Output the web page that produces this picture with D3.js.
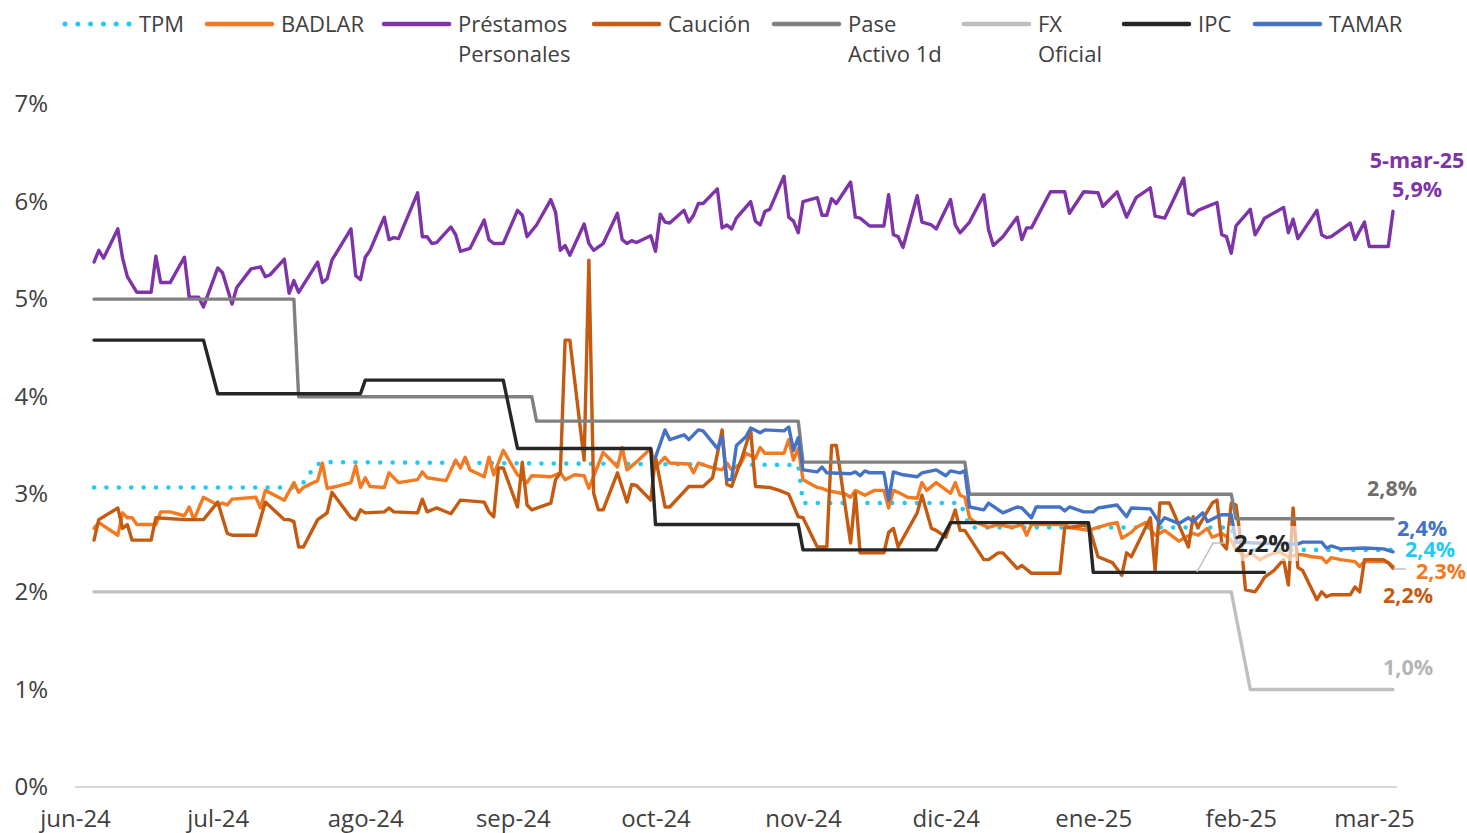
<!DOCTYPE html>
<html><head><meta charset="utf-8">
<script src="https://cdn.jsdelivr.net/npm/d3@7"></script>
<style>
body{margin:0;background:#fff;}
svg{display:block;font-family:"Open Sans",sans-serif;}
</style></head><body>
<svg id="chart" width="1467" height="833"></svg>
<script>
// ---------------- DATA ----------------
const xTickDates = ["2024-06-01","2024-07-01","2024-08-01","2024-09-01","2024-10-01","2024-11-01","2024-12-01","2025-01-01","2025-02-01","2025-03-01"];
const xTickLabels = ["jun-24","jul-24","ago-24","sep-24","oct-24","nov-24","dic-24","ene-25","feb-25","mar-25"];
const yTicks = [0,1,2,3,4,5,6,7];
const monthNames = ["ene","feb","mar","abr","may","jun","jul","ago","sep","oct","nov","dic"];

const seriesNames = ["TPM","BADLAR","Préstamos Personales","Caución","Pase Activo 1d","FX Oficial","IPC","TAMAR"];

const tpm = [["2024-06-05",3.07],["2024-07-17",3.07],["2024-07-19",3.12],["2024-07-20",3.17],["2024-07-21",3.28],["2024-07-23",3.33],["2024-10-31",3.30],["2024-11-01",2.91],["2024-12-04",2.91],["2024-12-05",2.80],["2024-12-06",2.66],["2025-01-30",2.66],["2025-01-31",2.43],["2025-03-05",2.43]];

const badlar = [["2024-06-05",2.65],["2024-06-06",2.71],["2024-06-10",2.58],["2024-06-11",2.81],["2024-06-12",2.76],["2024-06-13",2.76],["2024-06-14",2.69],["2024-06-18",2.69],["2024-06-19",2.82],["2024-06-21",2.82],["2024-06-24",2.78],["2024-06-25",2.87],["2024-06-26",2.74],["2024-06-28",2.97],["2024-07-01",2.89],["2024-07-02",2.91],["2024-07-03",2.89],["2024-07-04",2.95],["2024-07-09",2.97],["2024-07-10",2.86],["2024-07-11",3.04],["2024-07-15",2.94],["2024-07-17",3.12],["2024-07-18",3.02],["2024-07-19",3.07],["2024-07-22",3.14],["2024-07-23",3.32],["2024-07-24",3.06],["2024-07-26",3.08],["2024-07-29",3.12],["2024-07-30",3.29],["2024-07-31",3.07],["2024-08-01",3.17],["2024-08-02",3.08],["2024-08-05",3.07],["2024-08-06",3.22],["2024-08-08",3.12],["2024-08-12",3.15],["2024-08-13",3.23],["2024-08-14",3.17],["2024-08-18",3.14],["2024-08-20",3.35],["2024-08-21",3.27],["2024-08-22",3.38],["2024-08-23",3.25],["2024-08-26",3.18],["2024-08-27",3.38],["2024-08-28",3.20],["2024-08-30",3.45],["2024-09-02",3.20],["2024-09-04",3.12],["2024-09-05",3.19],["2024-09-09",3.18],["2024-09-11",3.22],["2024-09-12",3.15],["2024-09-14",3.20],["2024-09-16",3.19],["2024-09-17",3.06],["2024-09-20",3.43],["2024-09-21",3.38],["2024-09-23",3.28],["2024-09-24",3.48],["2024-09-25",3.25],["2024-09-27",3.33],["2024-09-30",3.47],["2024-10-01",3.28],["2024-10-03",3.38],["2024-10-04",3.32],["2024-10-08",3.31],["2024-10-09",3.22],["2024-10-10",3.32],["2024-10-13",3.27],["2024-10-15",3.25],["2024-10-16",3.32],["2024-10-17",3.25],["2024-10-19",3.32],["2024-10-20",3.42],["2024-10-22",3.37],["2024-10-23",3.48],["2024-10-24",3.42],["2024-10-28",3.42],["2024-10-29",3.56],["2024-10-30",3.35],["2024-10-31",3.47],["2024-11-01",3.15],["2024-11-04",3.07],["2024-11-05",3.06],["2024-11-06",3.04],["2024-11-10",3.00],["2024-11-11",2.97],["2024-11-12",3.04],["2024-11-14",2.99],["2024-11-16",3.04],["2024-11-18",3.04],["2024-11-19",2.86],["2024-11-20",3.04],["2024-11-21",3.02],["2024-11-23",2.97],["2024-11-25",2.96],["2024-11-26",3.12],["2024-11-27",3.04],["2024-11-29",3.12],["2024-12-02",3.01],["2024-12-03",3.12],["2024-12-04",2.99],["2024-12-05",2.97],["2024-12-06",2.76],["2024-12-07",2.72],["2024-12-10",2.66],["2024-12-12",2.69],["2024-12-15",2.66],["2024-12-17",2.69],["2024-12-18",2.58],["2024-12-19",2.69],["2024-12-26",2.69],["2024-12-27",2.66],["2024-12-31",2.63],["2025-01-02",2.66],["2025-01-04",2.69],["2025-01-06",2.71],["2025-01-07",2.55],["2025-01-09",2.61],["2025-01-10",2.66],["2025-01-12",2.71],["2025-01-14",2.58],["2025-01-15",2.60],["2025-01-16",2.63],["2025-01-19",2.52],["2025-01-20",2.55],["2025-01-22",2.60],["2025-01-23",2.58],["2025-01-25",2.65],["2025-01-26",2.56],["2025-01-28",2.60],["2025-01-30",2.53],["2025-01-31",2.43],["2025-02-02",2.36],["2025-02-03",2.40],["2025-02-05",2.33],["2025-02-07",2.38],["2025-02-09",2.41],["2025-02-11",2.36],["2025-02-13",2.38],["2025-02-14",2.38],["2025-02-16",2.36],["2025-02-18",2.35],["2025-02-19",2.30],["2025-02-20",2.35],["2025-02-22",2.33],["2025-02-25",2.31],["2025-02-26",2.26],["2025-02-27",2.31],["2025-03-03",2.31],["2025-03-04",2.30],["2025-03-05",2.26]];

const prestamos = [["2024-06-05",5.38],["2024-06-06",5.50],["2024-06-07",5.42],["2024-06-10",5.72],["2024-06-11",5.42],["2024-06-12",5.23],["2024-06-14",5.07],["2024-06-17",5.07],["2024-06-18",5.44],["2024-06-19",5.17],["2024-06-21",5.17],["2024-06-24",5.43],["2024-06-25",5.02],["2024-06-27",5.02],["2024-06-28",4.92],["2024-07-01",5.32],["2024-07-02",5.27],["2024-07-04",4.95],["2024-07-05",5.12],["2024-07-08",5.31],["2024-07-10",5.33],["2024-07-11",5.23],["2024-07-12",5.25],["2024-07-15",5.41],["2024-07-16",5.06],["2024-07-17",5.19],["2024-07-18",5.07],["2024-07-22",5.38],["2024-07-23",5.17],["2024-07-24",5.21],["2024-07-25",5.40],["2024-07-29",5.72],["2024-07-30",5.24],["2024-07-31",5.20],["2024-08-01",5.43],["2024-08-02",5.50],["2024-08-05",5.84],["2024-08-06",5.61],["2024-08-07",5.63],["2024-08-08",5.62],["2024-08-12",6.09],["2024-08-13",5.64],["2024-08-14",5.64],["2024-08-15",5.57],["2024-08-16",5.58],["2024-08-19",5.74],["2024-08-20",5.66],["2024-08-21",5.49],["2024-08-23",5.52],["2024-08-26",5.81],["2024-08-27",5.61],["2024-08-28",5.57],["2024-08-30",5.57],["2024-09-02",5.91],["2024-09-03",5.86],["2024-09-04",5.64],["2024-09-06",5.76],["2024-09-09",6.02],["2024-09-10",5.89],["2024-09-11",5.50],["2024-09-12",5.55],["2024-09-13",5.45],["2024-09-16",5.77],["2024-09-17",5.57],["2024-09-18",5.50],["2024-09-20",5.57],["2024-09-23",5.88],["2024-09-24",5.61],["2024-09-25",5.57],["2024-09-26",5.60],["2024-09-27",5.58],["2024-09-30",5.65],["2024-10-01",5.49],["2024-10-02",5.87],["2024-10-03",5.79],["2024-10-04",5.78],["2024-10-07",5.91],["2024-10-08",5.79],["2024-10-09",5.86],["2024-10-10",5.98],["2024-10-11",5.98],["2024-10-14",6.13],["2024-10-15",5.73],["2024-10-16",5.76],["2024-10-17",5.72],["2024-10-18",5.83],["2024-10-21",6.00],["2024-10-22",5.80],["2024-10-23",5.76],["2024-10-24",5.90],["2024-10-25",5.92],["2024-10-28",6.26],["2024-10-29",5.84],["2024-10-30",5.80],["2024-10-31",5.68],["2024-11-01",6.00],["2024-11-04",6.04],["2024-11-05",5.86],["2024-11-06",5.86],["2024-11-07",6.03],["2024-11-08",5.98],["2024-11-11",6.20],["2024-11-12",5.84],["2024-11-13",5.83],["2024-11-15",5.75],["2024-11-18",5.75],["2024-11-19",6.07],["2024-11-20",5.66],["2024-11-21",5.64],["2024-11-22",5.53],["2024-11-25",6.06],["2024-11-26",5.79],["2024-11-28",5.76],["2024-11-29",5.72],["2024-12-02",6.02],["2024-12-03",5.76],["2024-12-04",5.68],["2024-12-06",5.79],["2024-12-09",6.07],["2024-12-10",5.71],["2024-12-11",5.55],["2024-12-13",5.64],["2024-12-16",5.84],["2024-12-17",5.61],["2024-12-18",5.73],["2024-12-19",5.73],["2024-12-23",6.10],["2024-12-26",6.10],["2024-12-27",5.88],["2024-12-30",6.10],["2025-01-02",6.09],["2025-01-03",5.95],["2025-01-06",6.10],["2025-01-08",5.84],["2025-01-10",6.04],["2025-01-13",6.14],["2025-01-14",5.85],["2025-01-16",5.83],["2025-01-20",6.24],["2025-01-21",5.88],["2025-01-22",5.86],["2025-01-23",5.91],["2025-01-27",5.99],["2025-01-28",5.66],["2025-01-29",5.64],["2025-01-30",5.47],["2025-01-31",5.75],["2025-02-03",5.92],["2025-02-04",5.66],["2025-02-05",5.74],["2025-02-06",5.83],["2025-02-10",5.94],["2025-02-11",5.68],["2025-02-12",5.82],["2025-02-13",5.62],["2025-02-17",5.91],["2025-02-18",5.66],["2025-02-19",5.63],["2025-02-20",5.64],["2025-02-24",5.78],["2025-02-25",5.61],["2025-02-27",5.79],["2025-02-28",5.54],["2025-03-04",5.54],["2025-03-05",5.90]];

const caucion = [["2024-06-05",2.53],["2024-06-06",2.74],["2024-06-10",2.86],["2024-06-11",2.65],["2024-06-12",2.69],["2024-06-13",2.53],["2024-06-17",2.53],["2024-06-18",2.76],["2024-06-24",2.74],["2024-06-28",2.74],["2024-07-01",2.92],["2024-07-03",2.60],["2024-07-04",2.58],["2024-07-09",2.58],["2024-07-11",2.92],["2024-07-15",2.74],["2024-07-16",2.74],["2024-07-17",2.72],["2024-07-18",2.46],["2024-07-19",2.46],["2024-07-22",2.74],["2024-07-24",2.81],["2024-07-25",3.02],["2024-07-29",2.76],["2024-07-30",2.74],["2024-07-31",2.84],["2024-08-01",2.81],["2024-08-05",2.82],["2024-08-06",2.86],["2024-08-07",2.82],["2024-08-12",2.81],["2024-08-13",2.95],["2024-08-14",2.82],["2024-08-16",2.86],["2024-08-19",2.80],["2024-08-21",2.94],["2024-08-26",2.92],["2024-08-27",2.82],["2024-08-28",2.77],["2024-08-29",3.27],["2024-08-30",3.27],["2024-09-02",2.87],["2024-09-03",3.33],["2024-09-04",2.89],["2024-09-05",2.84],["2024-09-09",2.91],["2024-09-10",3.15],["2024-09-11",3.22],["2024-09-12",4.58],["2024-09-13",4.58],["2024-09-16",3.35],["2024-09-17",5.40],["2024-09-18",3.01],["2024-09-19",2.84],["2024-09-20",2.84],["2024-09-23",3.22],["2024-09-25",2.92],["2024-09-26",3.10],["2024-09-27",3.09],["2024-09-30",2.94],["2024-10-01",3.38],["2024-10-03",2.87],["2024-10-04",2.87],["2024-10-08",3.08],["2024-10-11",3.08],["2024-10-13",3.17],["2024-10-15",3.66],["2024-10-16",3.10],["2024-10-17",3.08],["2024-10-19",3.35],["2024-10-21",3.66],["2024-10-22",3.08],["2024-10-25",3.07],["2024-10-27",3.04],["2024-10-29",3.00],["2024-10-31",2.77],["2024-11-01",2.76],["2024-11-04",2.46],["2024-11-06",2.46],["2024-11-07",3.50],["2024-11-08",3.50],["2024-11-11",2.50],["2024-11-12",3.01],["2024-11-13",2.40],["2024-11-18",2.40],["2024-11-19",2.61],["2024-11-20",2.65],["2024-11-21",2.46],["2024-11-25",2.81],["2024-11-26",2.99],["2024-11-28",2.65],["2024-11-29",2.63],["2024-12-01",2.56],["2024-12-03",2.84],["2024-12-04",2.63],["2024-12-05",2.63],["2024-12-09",2.33],["2024-12-10",2.33],["2024-12-12",2.40],["2024-12-13",2.40],["2024-12-16",2.24],["2024-12-17",2.27],["2024-12-19",2.19],["2024-12-25",2.19],["2024-12-26",2.66],["2024-12-27",2.66],["2024-12-31",2.69],["2025-01-02",2.36],["2025-01-05",2.30],["2025-01-07",2.17],["2025-01-08",2.40],["2025-01-09",2.36],["2025-01-13",2.76],["2025-01-14",2.22],["2025-01-15",2.91],["2025-01-17",2.91],["2025-01-21",2.46],["2025-01-22",2.77],["2025-01-23",2.66],["2025-01-26",2.91],["2025-01-27",2.94],["2025-01-28",2.50],["2025-01-29",2.44],["2025-01-30",2.91],["2025-01-31",2.89],["2025-02-01",2.53],["2025-02-02",2.02],["2025-02-04",2.00],["2025-02-05",2.07],["2025-02-06",2.15],["2025-02-08",2.22],["2025-02-10",2.33],["2025-02-11",2.07],["2025-02-12",2.86],["2025-02-13",2.25],["2025-02-14",2.22],["2025-02-17",1.92],["2025-02-18",2.00],["2025-02-19",1.95],["2025-02-20",1.97],["2025-02-24",1.97],["2025-02-25",2.05],["2025-02-26",2.00],["2025-02-27",2.33],["2025-03-03",2.33],["2025-03-04",2.30],["2025-03-05",2.24]];

const pase = [["2024-06-05",5.00],["2024-07-17",5.00],["2024-07-18",4.00],["2024-09-05",4.00],["2024-09-06",3.75],["2024-10-31",3.75],["2024-11-01",3.33],["2024-12-05",3.33],["2024-12-06",3.00],["2025-01-30",3.00],["2025-01-31",2.75],["2025-03-05",2.75]];

const fxOficial = [["2024-06-05",2.00],["2025-01-30",2.00],["2025-02-03",1.00],["2025-03-05",1.00]];

const ipc = [["2024-06-05",4.58],["2024-06-28",4.58],["2024-07-01",4.03],["2024-07-31",4.03],["2024-08-01",4.17],["2024-08-30",4.17],["2024-09-02",3.47],["2024-09-30",3.47],["2024-10-01",2.69],["2024-10-31",2.69],["2024-11-01",2.43],["2024-11-29",2.43],["2024-12-02",2.71],["2024-12-31",2.71],["2025-01-01",2.20],["2025-02-06",2.20]];

const tamar = [["2024-10-01",3.38],["2024-10-03",3.66],["2024-10-04",3.56],["2024-10-07",3.61],["2024-10-08",3.56],["2024-10-10",3.66],["2024-10-11",3.65],["2024-10-14",3.47],["2024-10-15",3.59],["2024-10-16",3.15],["2024-10-17",3.15],["2024-10-18",3.50],["2024-10-20",3.59],["2024-10-21",3.68],["2024-10-23",3.63],["2024-10-24",3.66],["2024-10-28",3.65],["2024-10-29",3.69],["2024-10-30",3.45],["2024-10-31",3.58],["2024-11-01",3.25],["2024-11-04",3.23],["2024-11-05",3.28],["2024-11-06",3.22],["2024-11-11",3.21],["2024-11-12",3.23],["2024-11-13",3.19],["2024-11-14",3.24],["2024-11-15",3.22],["2024-11-18",3.22],["2024-11-19",2.94],["2024-11-20",3.23],["2024-11-22",3.20],["2024-11-25",3.18],["2024-11-26",3.22],["2024-11-29",3.25],["2024-11-30",3.22],["2024-12-01",3.19],["2024-12-02",3.24],["2024-12-04",3.22],["2024-12-05",3.24],["2024-12-06",2.87],["2024-12-09",2.84],["2024-12-10",2.91],["2024-12-13",2.81],["2024-12-16",2.87],["2024-12-17",2.86],["2024-12-19",2.76],["2024-12-20",2.87],["2024-12-25",2.87],["2024-12-26",2.83],["2024-12-27",2.87],["2024-12-30",2.82],["2025-01-01",2.82],["2025-01-02",2.86],["2025-01-06",2.89],["2025-01-08",2.77],["2025-01-09",2.86],["2025-01-13",2.85],["2025-01-15",2.70],["2025-01-16",2.76],["2025-01-19",2.70],["2025-01-21",2.76],["2025-01-22",2.72],["2025-01-24",2.81],["2025-01-25",2.72],["2025-01-27",2.77],["2025-01-28",2.79],["2025-01-30",2.79],["2025-01-31",2.51],["2025-02-09",2.49],["2025-02-13",2.49],["2025-02-14",2.51],["2025-02-18",2.51],["2025-02-19",2.45],["2025-02-20",2.47],["2025-02-22",2.44],["2025-02-27",2.45],["2025-03-03",2.44],["2025-03-05",2.41]];

// ---------------- CHART ----------------
const parse = d3.utcParse("%Y-%m-%d");
const svg = d3.select("#chart");
const x = d3.scaleUtc().domain([parse(xTickDates[0]), parse(xTickDates[xTickDates.length-1])]).range([75, 1374]);
const y = d3.scaleLinear().domain([0, 7]).range([787, 104]);
const TXT = "#404040";

const styles = [
  {data: tpm,       color: "#1FCBF4", width: 4.6, dash: "0 12.4"},
  {data: badlar,    color: "#F47A22", width: 3.4},
  {data: prestamos, color: "#7E34A8", width: 3.4},
  {data: caucion,   color: "#C55A11", width: 3.4},
  {data: pase,      color: "#808080", width: 3.4},
  {data: fxOficial, color: "#BFBFBF", width: 3.4},
  {data: ipc,       color: "#262626", width: 3.4},
  {data: tamar,     color: "#4472C4", width: 3.4}
];

// x axis
const xAxis = d3.axisBottom(x)
  .tickValues(xTickDates.map(parse))
  .tickFormat((d, i) => xTickLabels[i])
  .tickSize(0).tickPadding(23);
const gx = svg.append("g").attr("transform", "translate(0,787)").call(xAxis);
gx.select(".domain").remove();
gx.selectAll("text").attr("fill", TXT).style("font-size", "24px").style("font-family", '"Open Sans",sans-serif');

// baseline
const lastDate = parse(prestamos[prestamos.length-1][0]);
svg.append("line")
  .attr("x1", x(parse(xTickDates[0]))).attr("x2", x(lastDate) + 4)
  .attr("y1", y(0)).attr("y2", y(0))
  .attr("stroke", "#D9D9D9").attr("stroke-width", 2);

// y axis
const yAxis = d3.axisLeft(y).tickValues(yTicks).tickFormat(d => d + "%").tickSize(0).tickPadding(3);
const gy = svg.append("g").attr("transform", "translate(51,0)").call(yAxis);
gy.select(".domain").remove();
gy.selectAll("text").attr("fill", TXT).style("font-size", "24px").style("font-family", '"Open Sans",sans-serif');

// lines
const line = d3.line().x(d => x(parse(d[0]))).y(d => y(d[1]));
styles.forEach(s => {
  svg.append("path")
    .attr("d", line(s.data))
    .attr("fill", "none")
    .attr("stroke", s.color)
    .attr("stroke-width", s.width)
    .attr("stroke-linejoin", "round")
    .attr("stroke-linecap", "round")
    .attr("stroke-dasharray", s.dash || null);
});

// legend
const legendX = [63, 205, 382, 592, 772, 962, 1122, 1253];
const legendLines = seriesNames.map(n => {
  if (n === "Préstamos Personales") return ["Préstamos", "Personales"];
  if (n === "Pase Activo 1d") return ["Pase", "Activo 1d"];
  if (n === "FX Oficial") return ["FX", "Oficial"];
  return [n];
});
const lg = svg.append("g");
seriesNames.forEach((n, i) => {
  const s = styles[i];
  const x0 = legendX[i];
  lg.append("line")
    .attr("x1", x0 + 2).attr("x2", x0 + 67).attr("y1", 24).attr("y2", 24)
    .attr("stroke", s.color).attr("stroke-width", s.dash ? 5 : 4.5)
    .attr("stroke-linecap", "round")
    .attr("stroke-dasharray", s.dash ? "0 12.8" : null);
  const t = lg.append("text").attr("x", x0 + 76).attr("y", 32)
    .attr("fill", TXT).style("font-size", "22px");
  legendLines[i].forEach((ln, k) => {
    t.append("tspan").attr("x", x0 + 76).attr("y", 32 + k * 30).text(ln);
  });
});

// faded backing box of the IPC label (drawn over the lines)
svg.append("rect").attr("x", 1229).attr("y", 526).attr("width", 69).attr("height", 35)
  .attr("fill", "#fff").attr("fill-opacity", 0.62);

// leader lines
svg.append("polyline").attr("points", "1197,572 1213,543 1226,543")
  .attr("fill", "none").attr("stroke", "#BFBFBF").attr("stroke-width", 1.5);
svg.append("line").attr("x1", x(lastDate)).attr("x2", x(lastDate) + 13)
  .attr("y1", 569).attr("y2", 569).attr("stroke", "#BFBFBF").attr("stroke-width", 1.5);

// data labels (on top)
const fmt = v => d3.format(".1f")(v).replace(".", ",") + "%";
const last = arr => arr[arr.length - 1];
const lbl = svg.append("g").style("font-size", "21.5px").style("font-weight", "700");

const labelSpecs = [
  {arr: pase,      color: "#6F6F6F", cx: 1392, cy: 488},
  {arr: tamar,     color: "#4472C4", cx: 1422, cy: 528},
  {arr: tpm,       color: "#1FCBF4", cx: 1430, cy: 549},
  {arr: badlar,    color: "#F47A22", cx: 1441, cy: 571},
  {arr: caucion,   color: "#C55A11", cx: 1408, cy: 595},
  {arr: fxOficial, color: "#B5B5B5", cx: 1408, cy: 667},
  {arr: ipc,       color: "#262626", cx: 1262, cy: 543, size: "24px"},
  {arr: prestamos, color: "#7E34A8", cx: 1417, cy: 189}
];
labelSpecs.forEach(l => {
  lbl.append("text").attr("x", l.cx).attr("y", l.cy).attr("dy", "0.36em")
    .attr("text-anchor", "middle").attr("fill", l.color)
    .style("font-size", l.size || null)
    .text(fmt(last(l.arr)[1]));
});
const fmtDate = d => { const dt = parse(d); return dt.getUTCDate() + "-" + monthNames[dt.getUTCMonth()] + "-" + String(dt.getUTCFullYear()).slice(2); };
lbl.append("text").attr("x", 1417).attr("y", 160).attr("dy", "0.36em")
  .attr("text-anchor", "middle").attr("fill", "#7E34A8").text(fmtDate(last(prestamos)[0]));
</script>
</body></html>
